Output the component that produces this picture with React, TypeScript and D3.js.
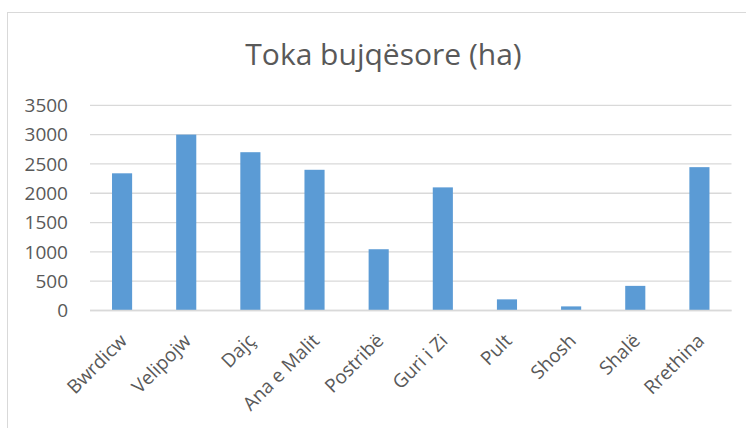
import React from 'react';
import * as d3 from 'd3';

const categories = ['Bwrdicw', 'Velipojw', 'Dajç', 'Ana e Malit', 'Postribë', 'Guri i Zi', 'Pult', 'Shosh', 'Shalë', 'Rrethina'];
const values = [2340, 3000, 2700, 2400, 1045, 2100, 190, 70, 420, 2445];
const yTicks = [0, 500, 1000, 1500, 2000, 2500, 3000, 3500];
const title = 'Toka bujqësore (ha)';

const width = 746;
const height = 428;
const font = "'Open Sans', 'Noto Sans', sans-serif";

export default function App() {
  const x = d3.scaleBand<string>().domain(categories).range([90, 731.5]).padding(0);
  const y = d3.scaleLinear().domain([0, 3500]).range([310.5, 105.3]);
  const barW = x.bandwidth() / 3.19;

  return (
    <svg width={width} height={height} style={{ position: 'absolute', left: 0, top: 0, background: '#fff' }}>
      <rect x={7.5} y={12.5} width={800} height={500} fill="#fff" stroke="#D9D9D9" />
      <text x={383.5} y={65} textAnchor="middle" fontFamily={font} fontSize={30} fill="#595959">
        {title}
      </text>
      {yTicks.map((t) => (
        <g key={t}>
          <line x1={90} x2={731.5} y1={y(t)} y2={y(t)} stroke="#D9D9D9" strokeWidth={1.3} />
          <text x={68} y={y(t)} dy="0.36em" textAnchor="end" fontFamily={font} fontSize={19} fill="#595959">
            {t}
          </text>
        </g>
      ))}
      {categories.map((c, i) => {
        const cx = (x(c) as number) + x.bandwidth() / 2;
        return (
          <g key={c}>
            <rect x={cx - barW / 2} y={y(values[i])} width={barW} height={y(0) - y(values[i])} fill="#5B9BD5" />
            <text
              transform={`translate(${cx + 6},${342}) rotate(-45)`}
              textAnchor="end"
              fontFamily={font}
              fontSize={19}
              fill="#595959"
            >
              {c}
            </text>
          </g>
        );
      })}
      <line x1={90} x2={731.5} y1={y(0)} y2={y(0)} stroke="#D9D9D9" strokeWidth={1.3} />
    </svg>
  );
}
